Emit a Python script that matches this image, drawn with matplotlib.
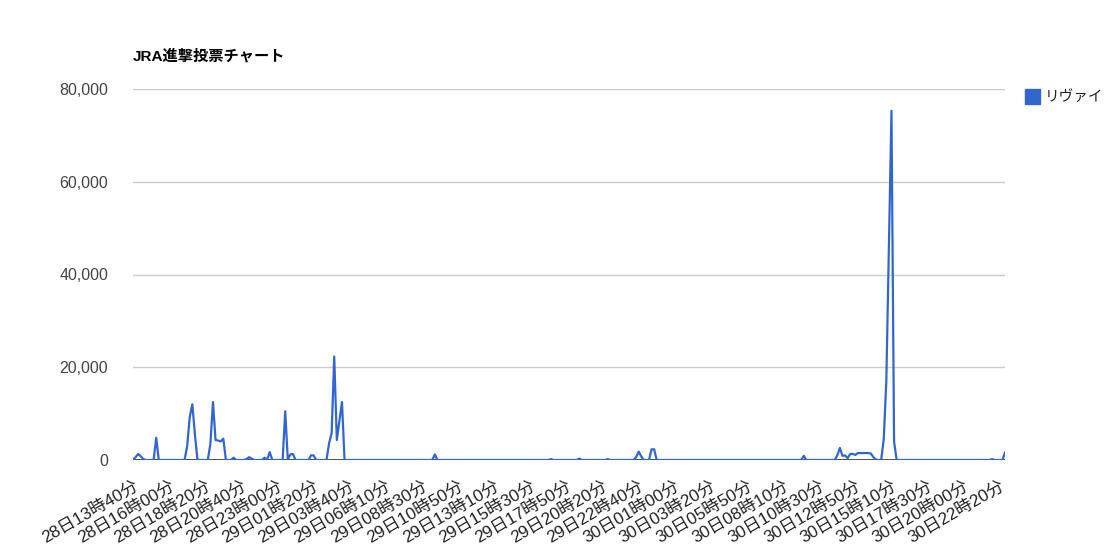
import numpy as np
import matplotlib
matplotlib.use("Agg")
from matplotlib import pyplot as plt
from matplotlib.patches import Rectangle

plt.rcParams['font.family'] = ['Liberation Sans', 'Noto Sans CJK JP', 'DejaVu Sans']

title = 'JRA進撃投票チャート'
series_name = 'リヴァイ'

# tick labels, one every 14 samples (10 min steps, some gaps)
time_labels = [
    '28日13時40分', '28日16時00分', '28日18時20分', '28日20時40分', '28日23時00分',
    '29日01時20分', '29日03時40分', '29日06時10分', '29日08時30分', '29日10時50分',
    '29日13時10分', '29日15時30分', '29日17時50分', '29日20時20分', '29日22時40分',
    '30日01時00分', '30日03時20分', '30日05時50分', '30日08時10分', '30日10時30分',
    '30日12時50分', '30日15時10分', '30日17時30分', '30日20時00分', '30日22時20分',
]

# votes per sample, 14 per row
votes = [
    0, 600, 1300, 800, 200, 0, 0, 0, 0, 4800, 0, 0, 0, 0,
    0, 0, 0, 0, 0, 0, 0, 3000, 9300, 12000, 5500, 0, 0, 0,
    0, 0, 3500, 12500, 4300, 4200, 4000, 4600, 0, 0, 0, 500, 0, 0,
    0, 0, 200, 600, 300, 0, 0, 0, 0, 500, 100, 1700, 0, 0,
    0, 0, 0, 10500, 100, 1200, 1300, 0, 0, 0, 0, 0, 0, 1000,
    1000, 0, 0, 0, 0, 0, 3600, 5800, 22300, 4300, 8400, 12500, 0, 0,
    0, 0, 0, 0, 0, 0, 0, 0, 0, 0, 0, 0, 0, 0,
    0, 0, 0, 0, 0, 0, 0, 0, 0, 0, 0, 0, 0, 0,
    0, 0, 0, 0, 0, 1200, 0, 0, 0, 0, 0, 0, 0, 0,
    0, 0, 0, 0, 0, 0, 0, 0, 0, 0, 0, 0, 0, 0,
    0, 0, 0, 0, 0, 0, 0, 0, 0, 0, 0, 0, 0, 0,
    0, 0, 0, 0, 0, 0, 0, 0, 200, 0, 0, 0, 0, 0,
    0, 0, 0, 0, 0, 300, 0, 0, 0, 0, 0, 0, 0, 0,
    0, 0, 200, 0, 0, 0, 0, 0, 0, 0, 0, 0, 0, 600,
    1800, 800, 0, 0, 0, 2300, 2300, 0, 0, 0, 0, 0, 0, 0,
    0, 0, 0, 0, 0, 0, 0, 0, 0, 0, 0, 0, 0, 0,
    0, 0, 0, 0, 0, 0, 0, 0, 0, 0, 0, 0, 0, 0,
    0, 0, 0, 0, 0, 0, 0, 0, 0, 0, 0, 0, 0, 0,
    0, 0, 0, 0, 0, 0, 0, 0, 900, 0, 0, 0, 0, 0,
    0, 0, 0, 0, 0, 0, 0, 1000, 2600, 900, 1000, 400, 1300, 1300,
    1100, 1500, 1500, 1500, 1500, 1500, 1400, 600, 100, 0, 0, 4500, 17000, 46000,
    75300, 4000, 0, 0, 0, 0, 0, 0, 0, 0, 0, 0, 0, 0,
    0, 0, 0, 0, 0, 0, 0, 0, 0, 0, 0, 0, 0, 0,
    0, 0, 0, 0, 0, 0, 0, 0, 0, 0, 0, 200, 0, 0,
    0, 0, 1600,
]

y_ticks = [0, 20000, 40000, 60000, 80000]

W, H = 1116, 548
fig = plt.figure(figsize=(W / 100, H / 100), dpi=100)
ax = fig.add_axes([133 / W, 1 - 460 / H, (1005 - 133) / W, (460 - 89) / H])

x = np.arange(len(votes))
ax.plot(x, votes, color='#3366cc', lw=1.6, solid_joinstyle='round', zorder=3)

ax.set_xlim(0, len(votes) - 1)
ax.set_ylim(0, 80000)
ax.set_yticks(y_ticks)
ax.set_yticklabels([f'{v:,}' for v in y_ticks])
ax.yaxis.grid(True, color='#cccccc', lw=1)
ax.axhline(0, color='#333333', lw=1.2, zorder=2)
ax.tick_params(axis='y', length=0, pad=18, labelsize=11.5, labelcolor='#444444')

ax.set_xticks(x[::14])
ax.set_xticklabels(time_labels, rotation=30, ha='right', rotation_mode='anchor')
ax.tick_params(axis='x', length=0, pad=13, labelsize=12.3, labelcolor='#222222')

for s in ax.spines.values():
    s.set_visible(False)

fig.text(133 / W, 1 - 56 / H, title, fontsize=11, fontweight='bold',
         va='center', ha='left', color='black')

# legend
fig.add_artist(Rectangle((1025 / W, 1 - 104 / H), 15 / W, 15 / H,
                         transform=fig.transFigure, color='#3366cc'))
fig.text(1045 / W, 1 - 97 / H, series_name, fontsize=10.5, va='center',
         ha='left', color='#222222')

fig.savefig('out.png', dpi=100)
